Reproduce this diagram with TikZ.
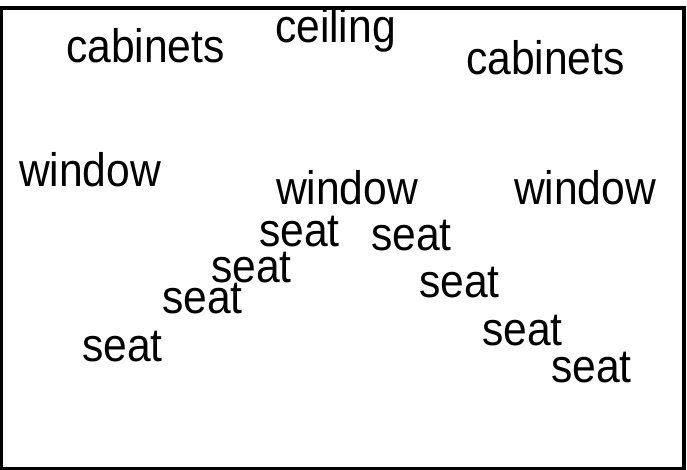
\documentclass[tikz,border=0pt]{standalone}
\usepackage{graphicx}
\usepackage{fontspec}
\setmainfont{Liberation Sans}
\newcommand{\tallt}[1]{\scalebox{0.98}[1.08]{#1}}
\begin{document}
\begin{tikzpicture}[x=1pt,y=-1pt,
  lbl/.style={anchor=base west,inner sep=0pt,outer sep=0pt,font=\fontsize{43.5}{50}\selectfont},
  frame/.style={draw=black,line width=3.5pt}]
\useasboundingbox (0,0) rectangle (687,470);
\fill[white] (0,0) rectangle (687,470);
\draw[frame] (1.5,8) rectangle (684,468.5);
\node[lbl] (cab1) at (66,63) {\tallt{cabinets}};
\node[lbl] (ceil) at (275,43) {\tallt{ceiling}};
\node[lbl] (cab2) at (466,75) {\tallt{cabinets}};
\node[lbl] (win1) at (19,187) {\tallt{window}};
\node[lbl] (win2) at (276,205) {\tallt{window}};
\node[lbl] (win3) at (514,205) {\tallt{window}};
\node[lbl] (seat1) at (259,246) {\tallt{seat}};
\node[lbl] (seat2) at (371,250) {\tallt{seat}};
\node[lbl] (seat3) at (211,282) {\tallt{seat}};
\node[lbl] (seat4) at (162,313) {\tallt{seat}};
\node[lbl] (seat5) at (419,297) {\tallt{seat}};
\node[lbl] (seat6) at (82,361) {\tallt{seat}};
\node[lbl] (seat7) at (482,345) {\tallt{seat}};
\node[lbl] (seat8) at (551,382) {\tallt{seat}};
\end{tikzpicture}
\end{document}
